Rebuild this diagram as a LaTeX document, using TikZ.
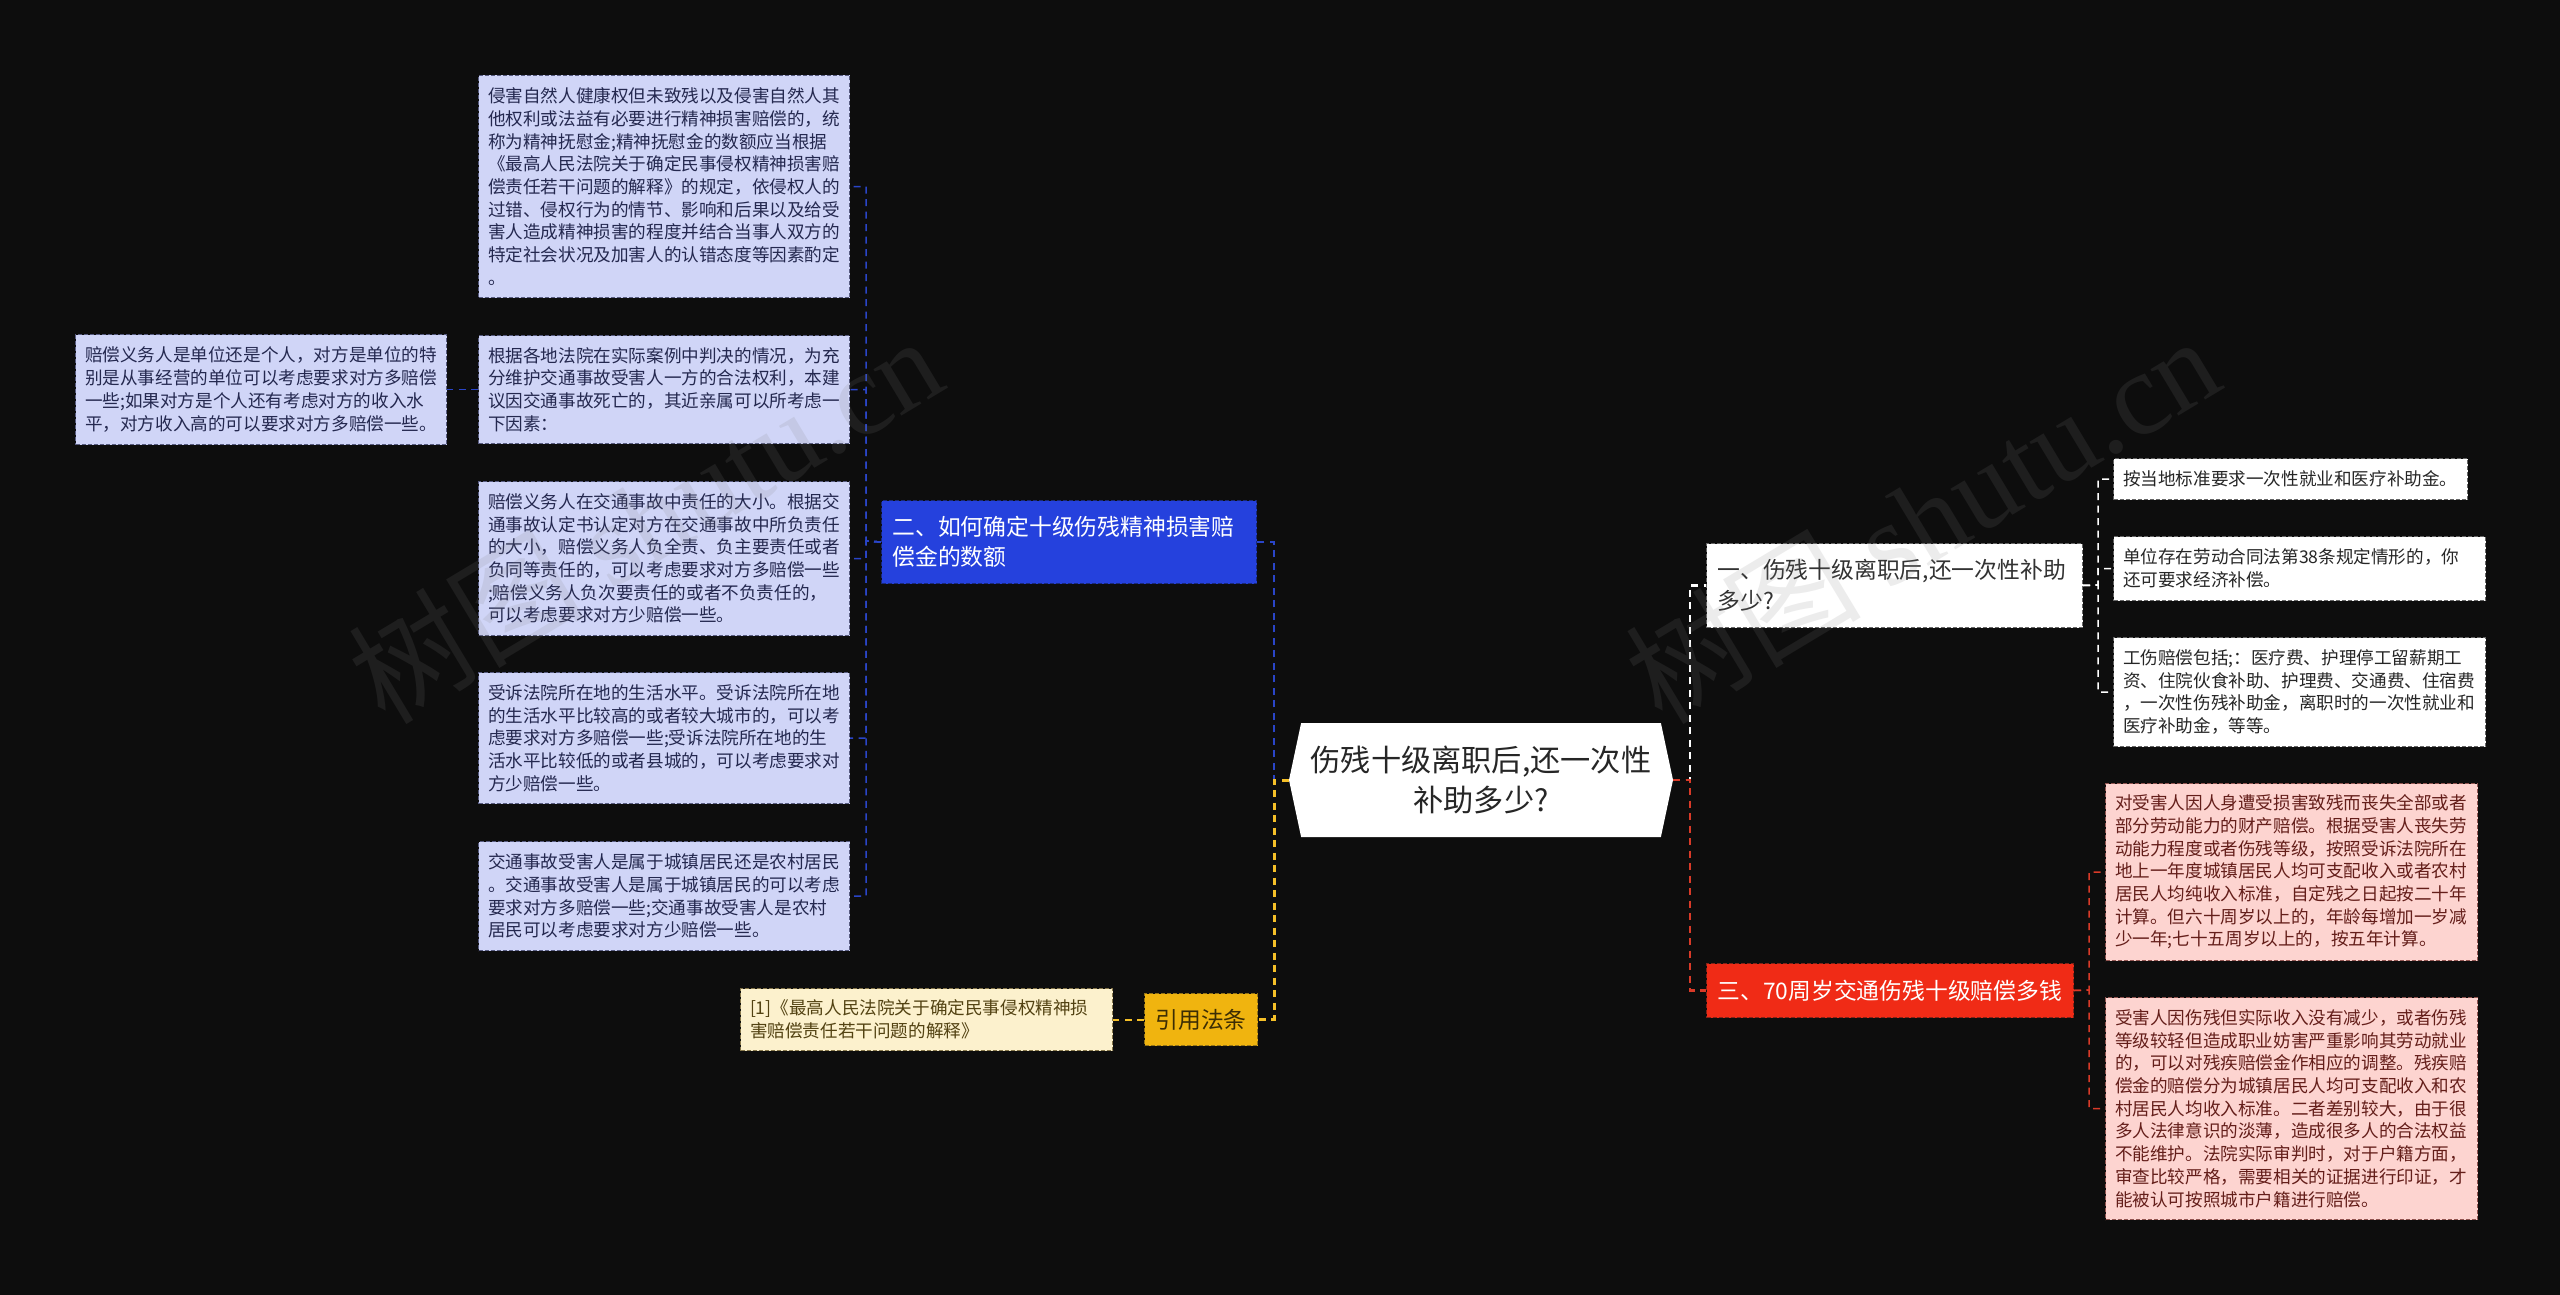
\documentclass[tikz,border=0pt]{standalone}
\usepackage{fontspec}
\setmainfont{Noto Sans CJK SC}
\newfontfamily\markfont{Liberation Serif}
\usetikzlibrary{shapes.symbols}

\definecolor{bgcol}{HTML}{0D0D0D}
\definecolor{lavfill}{HTML}{D0D5F7}
\definecolor{lavtext}{HTML}{24284F}
\definecolor{bluefill}{HTML}{2541DD}
\definecolor{blueline}{HTML}{2A45C8}
\definecolor{redfill}{HTML}{F02B16}
\definecolor{redline}{HTML}{D93A28}
\definecolor{pinkfill}{HTML}{FDD4D0}
\definecolor{pinktext}{HTML}{641E1A}
\definecolor{yelfill}{HTML}{F0B40F}
\definecolor{yelline}{HTML}{F5C028}
\definecolor{creamfill}{HTML}{FCF1CD}
\definecolor{creamtext}{HTML}{524212}

\tikzstyle{bigfig}=[x=1pt,y=-1pt]
\tikzstyle{smallbox}=[font=\fontsize{17.6}{22.7}\selectfont,align=left,anchor=north west,inner xsep=9.5pt,inner ysep=0pt,dash pattern=on 4pt off 2pt,line width=1pt]
\tikzstyle{midbox}=[font=\fontsize{22.8}{30.5}\selectfont,align=left,anchor=north west,inner xsep=11pt,inner ysep=0pt,dash pattern=on 4pt off 2pt,line width=1pt]
\tikzstyle{lavbox}=[smallbox,fill=lavfill,draw=lavtext!70!lavfill,text=lavtext]
\tikzstyle{pinkbox}=[smallbox,fill=pinkfill,draw=pinktext!70!pinkfill,text=pinktext]
\tikzstyle{whitebox}=[smallbox,fill=white,draw=black!60,text=black!85]
\tikzstyle{creambox}=[smallbox,fill=creamfill,draw=creamtext!70!creamfill,text=creamtext]
\tikzstyle{rootbox}=[signal,signal to=west and east,signal from=nowhere,signal pointer angle=156,fill=white,text=black!85,font=\fontsize{30.2}{40}\selectfont,align=center,inner sep=0pt,minimum width=384pt,minimum height=114pt]
\tikzstyle{bluelink}=[blueline,line width=1.5pt,dash pattern=on 7pt off 5.5pt]
\tikzstyle{redlink}=[redline,line width=1.5pt,dash pattern=on 7pt off 5.5pt]
\tikzstyle{yellink}=[yelline,line width=3pt,dash pattern=on 7pt off 5.5pt]
\tikzstyle{whitelink}=[white,line width=1.5pt,dash pattern=on 7pt off 5.5pt]
\tikzstyle{wmark}=[font=\fontsize{118}{118}\selectfont,text=gray,text opacity=0.15,rotate=31,inner sep=0pt]

\begin{document}
\begin{tikzpicture}[style=bigfig]
\useasboundingbox (0,0) rectangle (2560,1295);
\fill[bgcol] (0,0) rectangle (2560,1295);

% centre
\node[rootbox] (root) at (1481,780) {伤残十级离职后,还一次性\\补助多少?};

% left branch
\node[midbox,fill=bluefill,draw=blueline!60!black,text=white,text width=353pt,minimum height=83pt] (howbox) at (881,500) {二、如何确定十级伤残精神损害赔\\偿金的数额};
\node[lavbox,text width=352pt,minimum height=222pt] (spirit) at (478,75) {侵害自然人健康权但未致残以及侵害自然人其\\他权利或法益有必要进行精神损害赔偿的，统\\称为精神抚慰金;精神抚慰金的数额应当根据\\《最高人民法院关于确定民事侵权精神损害赔\\偿责任若干问题的解释》的规定，依侵权人的\\过错、侵权行为的情节、影响和后果以及给受\\害人造成精神损害的程度并结合当事人双方的\\特定社会状况及加害人的认错态度等因素酌定\\。};
\node[lavbox,text width=352pt,minimum height=108pt] (cases) at (478,335) {根据各地法院在实际案例中判决的情况，为充\\分维护交通事故受害人一方的合法权利，本建\\议因交通事故死亡的，其近亲属可以所考虑一\\下因素：};
\node[lavbox,text width=352pt,minimum height=110pt] (payer) at (75,334) {赔偿义务人是单位还是个人，对方是单位的特\\别是从事经营的单位可以考虑要求对方多赔偿\\一些;如果对方是个人还有考虑对方的收入水\\平，对方收入高的可以要求对方多赔偿一些。};
\node[lavbox,text width=352pt,minimum height=154pt] (duty) at (478,481) {赔偿义务人在交通事故中责任的大小。根据交\\通事故认定书认定对方在交通事故中所负责任\\的大小，赔偿义务人负全责、负主要责任或者\\负同等责任的，可以考虑要求对方多赔偿一些\\;赔偿义务人负次要责任的或者不负责任的，\\可以考虑要求对方少赔偿一些。};
\node[lavbox,text width=352pt,minimum height=131pt] (court) at (478,672) {受诉法院所在地的生活水平。受诉法院所在地\\的生活水平比较高的或者较大城市的，可以考\\虑要求对方多赔偿一些;受诉法院所在地的生\\活水平比较低的或者县城的，可以考虑要求对\\方少赔偿一些。};
\node[lavbox,text width=352pt,minimum height=109pt] (urban) at (478,841) {交通事故受害人是属于城镇居民还是农村居民\\。交通事故受害人是属于城镇居民的可以考虑\\要求对方多赔偿一些;交通事故受害人是农村\\居民可以考虑要求对方少赔偿一些。};

\node[midbox,fill=yelfill,draw=yelline!60!black,text=black!75!yelfill,text width=91pt,minimum height=52pt] (lawbox) at (1144,993) {引用法条};
\node[creambox,text width=353pt,minimum height=62pt] (cite) at (740,988) {[1]《最高人民法院关于确定民事侵权精神损\\害赔偿责任若干问题的解释》};

% right branch
\node[midbox,fill=white,draw=black!60,text=black!80,text width=354pt,minimum height=84pt] (onebox) at (1706,543) {一、伤残十级离职后,还一次性补助\\多少?};
\node[whitebox,text width=335pt,minimum height=41pt] (local) at (2113,458) {按当地标准要求一次性就业和医疗补助金。};
\node[whitebox,text width=353pt,minimum height=64pt] (unit) at (2113,536) {单位存在劳动合同法第38条规定情形的，你\\还可要求经济补偿。};
\node[whitebox,text width=353pt,minimum height=109pt] (injury) at (2113,637) {工伤赔偿包括;：医疗费、护理停工留薪期工\\资、住院伙食补助、护理费、交通费、住宿费\\，一次性伤残补助金，离职时的一次性就业和\\医疗补助金，等等。};

\node[midbox,fill=redfill,draw=redline!60!black,text=white,text width=345pt,minimum height=54pt] (agebox) at (1706,963) {三、70周岁交通伤残十级赔偿多钱};
\node[pinkbox,text width=353pt,minimum height=177pt] (loss) at (2105,783) {对受害人因人身遭受损害致残而丧失全部或者\\部分劳动能力的财产赔偿。根据受害人丧失劳\\动能力程度或者伤残等级，按照受诉法院所在\\地上一年度城镇居民人均可支配收入或者农村\\居民人均纯收入标准，自定残之日起按二十年\\计算。但六十周岁以上的，年龄每增加一岁减\\少一年;七十五周岁以上的，按五年计算。};
\node[pinkbox,text width=353pt,minimum height=222pt] (adjust) at (2105,997) {受害人因伤残但实际收入没有减少，或者伤残\\等级较轻但造成职业妨害严重影响其劳动就业\\的，可以对残疾赔偿金作相应的调整。残疾赔\\偿金的赔偿分为城镇居民人均可支配收入和农\\村居民人均收入标准。二者差别较大，由于很\\多人法律意识的淡薄，造成很多人的合法权益\\不能维护。法院实际审判时，对于户籍方面，\\审查比较严格，需要相关的证据进行印证，才\\能被认可按照城市户籍进行赔偿。};

\coordinate (rootl) at (1274,780);
\coordinate (rootr) at (1690,780);
\coordinate (howbus) at (866,541);
\coordinate (onebus) at (2098,585);
\coordinate (agebus) at (2089,990);

\draw[whitelink,line width=2.5pt] (root.east) -- (rootr) |- (onebox.west);
\draw[redlink,line width=2.5pt] (root.east) -- (rootr) |- (agebox.west);
\draw[bluelink,line width=2.5pt] (root.west) -- (rootl) |- (howbox.east);
\draw[yellink] (root.west) -- (rootl) |- (lawbox.east);

\draw[bluelink] (howbox.west) -- (howbus) |- (spirit.east);
\draw[bluelink] (howbox.west) -- (howbus) |- (cases.east);
\draw[bluelink] (howbox.west) -- (howbus) |- (duty.east);
\draw[bluelink] (howbox.west) -- (howbus) |- (court.east);
\draw[bluelink] (howbox.west) -- (howbus) |- (urban.east);
\draw[bluelink] (cases.west) -- (payer.east);
\draw[yellink,line width=2pt] (lawbox.west) -- (cite.east);

\draw[whitelink] (onebox.east) -- (onebus) |- (local.west);
\draw[whitelink] (onebox.east) -- (onebus) |- (unit.west);
\draw[whitelink] (onebox.east) -- (onebus) |- (injury.west);
\draw[redlink] (agebox.east) -- (agebus) |- (loss.west);
\draw[redlink] (agebox.east) -- (agebus) |- (adjust.west);

% watermark
\node[wmark] (markl) at (645,518) {树图 {\markfont shutu.cn}};
\node[wmark] (markr) at (1922,518) {树图 {\markfont shutu.cn}};
\end{tikzpicture}
\end{document}
